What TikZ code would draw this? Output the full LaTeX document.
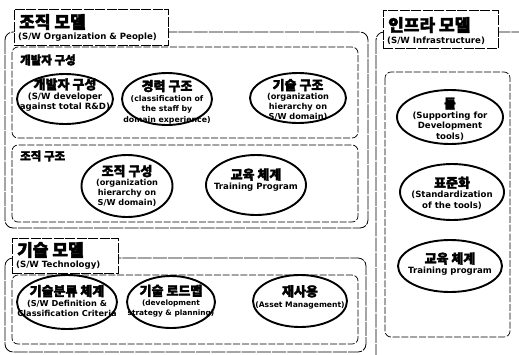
\documentclass[tikz,border=0pt]{standalone}
\usepackage{fontspec}
\setmainfont{DejaVu Sans}
\newfontfamily\kr{Noto Sans CJK KR}[FakeBold=2.5]
\usetikzlibrary{shapes.geometric}
\begin{document}
\begin{tikzpicture}[x=1pt,y=-1pt,
  outerbox/.style={draw, line width=0.8pt, rounded corners=8pt, dash pattern=on 14pt off 1.2pt},
  innerbox/.style={draw, line width=0.7pt, rounded corners=6pt, dash pattern=on 7pt off 1.8pt},
  titlebox/.style={draw, fill=white, line width=0.8pt, dash pattern=on 10pt off 1.5pt},
  oval/.style={draw, ellipse, line width=1.9pt, inner sep=0pt},
  ovtext/.style={align=center, font=\fontsize{8.6}{10.3}\selectfont\bfseries, inner sep=0pt},
  sect/.style={anchor=west, font=\bfseries\kr\fontsize{11.5}{13}\selectfont, inner sep=0pt},
  ttl/.style={anchor=west, font=\bfseries\kr\fontsize{17}{19}\selectfont, inner sep=0pt},
  sub/.style={anchor=west, font=\fontsize{8.6}{9}\selectfont\bfseries, inner sep=0pt}
]
\newcommand\ktitle[1]{{\kr\fontsize{13}{14}\selectfont #1}}
\useasboundingbox (0,0) rectangle (519,354);
\clip (0,0) rectangle (519,354);
\fill[white] (0,0) rectangle (519,354);

% ===== Organization model =====
\draw[outerbox] (5,32) rectangle (368,228);
\draw[innerbox] (12,47) rectangle (358,138);
\draw[innerbox] (12,145) rectangle (358,222);
\node[titlebox, minimum width=154pt, minimum height=36pt, anchor=north west, inner sep=0pt] (t1) at (14,9) {};
\node[ttl] (t1a) at (19,22) {조직 모델};
\node[sub] (t1b) at (18,37.5) {(S/W Organization \& People)};

\node[sect] (s1) at (20,60) {개발자 구성};
\node[sect] (s2) at (20,156) {조직 구조};

\node[oval, minimum width=96pt, minimum height=50pt] (e1) at (65,99) {};
\node[ovtext] (x1) at (65,95) {\ktitle{개발자 구성}\\(S/W developer\\against total R\&D)};
\node[oval, minimum width=90pt, minimum height=52pt] (e2) at (167,99) {};
\node[ovtext, font=\fontsize{7.8}{10.5}\selectfont\bfseries] (x2) at (167,102) {\ktitle{경력 구조}\\(classification of\\the staff by\\domain experience)};
\node[oval, minimum width=96pt, minimum height=50pt] (e3) at (298,98) {};
\node[ovtext, font=\fontsize{8.2}{10}\selectfont\bfseries] (x3) at (298,100) {\ktitle{기술 구조}\\(organization\\hierarchy on\\S/W domain)};

\node[oval, minimum width=91pt, minimum height=62pt] (e4) at (127,186) {};
\node[ovtext, font=\fontsize{8.2}{10}\selectfont\bfseries] (x4) at (127,186) {\ktitle{조직 구성}\\(organization\\hierarchy on\\S/W domain)};
\node[oval, minimum width=100pt, minimum height=60pt] (e5) at (256,185) {};
\node[ovtext] (x5) at (256,180) {\ktitle{교육 체계}\\Training Program};

% ===== Technology model =====
\draw[outerbox] (5,258) rectangle (366,352);
\draw[innerbox] (12,275) rectangle (358,344);
\node[titlebox, minimum width=106pt, minimum height=35pt, anchor=north west, inner sep=0pt] (t2) at (12,238) {};
\node[ttl] (t2a) at (17,250) {기술 모델};
\node[sub] (t2b) at (16,265) {(S/W Technology)};

\node[oval, minimum width=100pt, minimum height=54pt] (e6) at (67,302) {};
\node[ovtext, font=\fontsize{8.2}{10.5}\selectfont\bfseries] (x6) at (67,301) {\ktitle{기술분류 체계}\\(S/W Definition \&\\Classification Criteria};
\node[oval, minimum width=88pt, minimum height=52pt] (e7) at (171,302) {};
\node[ovtext, font=\fontsize{7.4}{10}\selectfont\bfseries] (x7) at (171,301) {\ktitle{기술 로드맵}\\(development\\strategy \& planning)};
\node[oval, minimum width=94pt, minimum height=52pt] (e8) at (300,301) {};
\node[ovtext, font=\fontsize{7.6}{11}\selectfont\bfseries] (x8) at (300,297) {\ktitle{재사용}\\(Asset Management)};

% ===== Infrastructure model =====
\draw[outerbox] (376,32) rectangle (540,370);
\draw[innerbox] (385,72) rectangle (510,337);
\node[titlebox, minimum width=115pt, minimum height=38pt, anchor=north west, inner sep=0pt] (t3) at (383,10) {};
\node[ttl] (t3a) at (388,25) {인프라 모델};
\node[sub] (t3b) at (387,41) {(S/W Infrastructure)};

\node[oval, minimum width=106pt, minimum height=54pt] (e9) at (450,117) {};
\node[ovtext] (x9) at (450,119) {\ktitle{툴}\\(Supporting for\\Development\\tools)};
\node[oval, minimum width=104pt, minimum height=56pt] (e10) at (452,192) {};
\node[ovtext] (x10) at (452,193) {\ktitle{표준화}\\(Standardization\\of the tools)};
\node[oval, minimum width=104pt, minimum height=52pt] (e11) at (450,266) {};
\node[ovtext] (x11) at (450,264) {\ktitle{교육 체계}\\Training program};
\end{tikzpicture}
\end{document}
